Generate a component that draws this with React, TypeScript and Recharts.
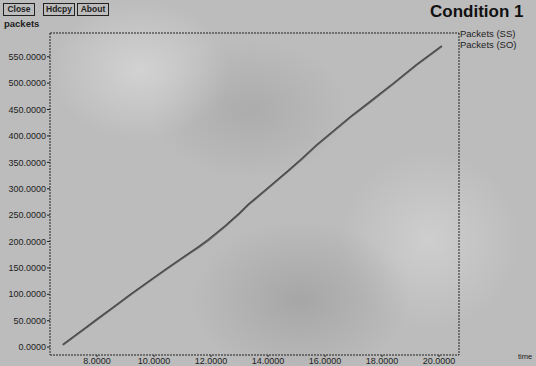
import { LineChart, Line, XAxis, YAxis } from 'recharts';

const times = [6.8, 7.5, 8.0, 8.6, 9.2, 9.9, 10.5, 11.2, 11.6, 11.9, 12.5, 13.0, 13.3, 14.0, 14.7, 15.2, 15.7, 16.3, 16.9, 17.6, 18.4, 19.2, 20.1];
const packetsSS = [5, 33, 53, 77, 101, 128, 151, 177, 192, 204, 230, 254, 270, 302, 334, 358, 383, 410, 437, 466, 500, 535, 571];
const packetsSO = [4, 32, 52, 76, 100, 127, 150, 176, 190, 202, 229, 253, 269, 301, 333, 357, 382, 409, 436, 465, 499, 534, 570];

const xTicks = [8, 10, 12, 14, 16, 18, 20];
const yTicks = [0, 50, 100, 150, 200, 250, 300, 350, 400, 450, 500, 550];
const seriesNames = ['Packets (SS)', 'Packets (SO)'];
const buttons = ['Close', 'Hdcpy', 'About'];

const data = times.map((t, i) => ({ time: t, ss: packetsSS[i], so: packetsSO[i] }));

const font = '"Liberation Sans", Arial, sans-serif';
const ink = '#222';
const dash = '2 1';

const label = (left: number, top: number, size: number, bold = false) => ({
    position: 'absolute' as const,
    left,
    top,
    fontFamily: font,
    fontSize: size,
    fontWeight: bold ? 'bold' : 'normal',
    color: ink,
    lineHeight: `${Math.round(size + 1)}px`,
    whiteSpace: 'nowrap' as const,
});

export default function App() {
    return (
        <div
            style={{
                position: 'fixed',
                left: 0,
                top: 0,
                width: 536,
                height: 366,
                overflow: 'hidden',
                background:
                    'radial-gradient(ellipse 90px 70px at 140px 70px, #d2d2d2, transparent), radial-gradient(ellipse 110px 80px at 300px 300px, #a6a6a6, transparent), radial-gradient(ellipse 90px 90px at 430px 240px, #cecece, transparent), radial-gradient(ellipse 100px 70px at 250px 110px, #acacac, transparent), #bcbcbc',
            }}
        >
            {buttons.map((b, i) => (
                <div
                    key={b}
                    style={{
                        ...label([3, 43, 77][i], 3, 8.5, true),
                        width: 32,
                        height: 13,
                        lineHeight: '11px',
                        border: `1px solid ${ink}`,
                        boxSizing: 'border-box',
                        textAlign: 'center',
                    }}
                >
                    {b}
                </div>
            ))}
            <div style={label(4, 18, 9.5, true)}>packets</div>
            <div style={{ ...label(430, 3, 17, true), color: '#111' }}>Condition 1</div>
            <div style={label(460, 28, 9.5)}>
                {seriesNames.map((n) => (
                    <div key={n}>{n}</div>
                ))}
            </div>
            <div style={label(518, 352, 7.5)}>time</div>
            <LineChart
                width={536}
                height={366}
                data={data}
                margin={{ top: 32, right: 76, bottom: 0, left: 0 }}
            >
                <XAxis
                    xAxisId="b"
                    type="number"
                    dataKey="time"
                    domain={[6.35, 20.7]}
                    ticks={xTicks}
                    allowDataOverflow
                    tickFormatter={(v: number) => v.toFixed(4)}
                    height={11}
                    tickSize={2}
                    tickMargin={1}
                    axisLine={{ stroke: ink, strokeDasharray: dash }}
                    tickLine={{ stroke: ink }}
                    tick={{ fill: ink, fontSize: 9, fontFamily: font }}
                />
                <XAxis
                    xAxisId="t"
                    orientation="top"
                    type="number"
                    dataKey="time"
                    domain={[6.35, 20.7]}
                    allowDataOverflow
                    height={1}
                    tick={false}
                    tickLine={false}
                    axisLine={{ stroke: ink, strokeDasharray: dash }}
                />
                <YAxis
                    yAxisId="l"
                    type="number"
                    domain={[-15, 595]}
                    ticks={yTicks}
                    allowDataOverflow
                    tickFormatter={(v: number) => v.toFixed(4)}
                    width={50}
                    tickSize={3}
                    tickMargin={1}
                    axisLine={{ stroke: ink, strokeDasharray: dash }}
                    tickLine={{ stroke: ink }}
                    tick={{ fill: ink, fontSize: 9, fontFamily: font }}
                />
                <YAxis
                    yAxisId="r"
                    orientation="right"
                    type="number"
                    domain={[-15, 595]}
                    allowDataOverflow
                    width={1}
                    tick={false}
                    tickLine={false}
                    axisLine={{ stroke: ink, strokeDasharray: dash }}
                />
                <Line
                    xAxisId="b"
                    yAxisId="l"
                    type="linear"
                    dataKey="so"
                    name={seriesNames[1]}
                    stroke="#6a6a6a"
                    strokeWidth={2}
                    dot={false}
                    isAnimationActive={false}
                />
                <Line
                    xAxisId="b"
                    yAxisId="l"
                    type="linear"
                    dataKey="ss"
                    name={seriesNames[0]}
                    stroke="#4a4a4a"
                    strokeWidth={1.2}
                    dot={false}
                    isAnimationActive={false}
                />
            </LineChart>
        </div>
    );
}
